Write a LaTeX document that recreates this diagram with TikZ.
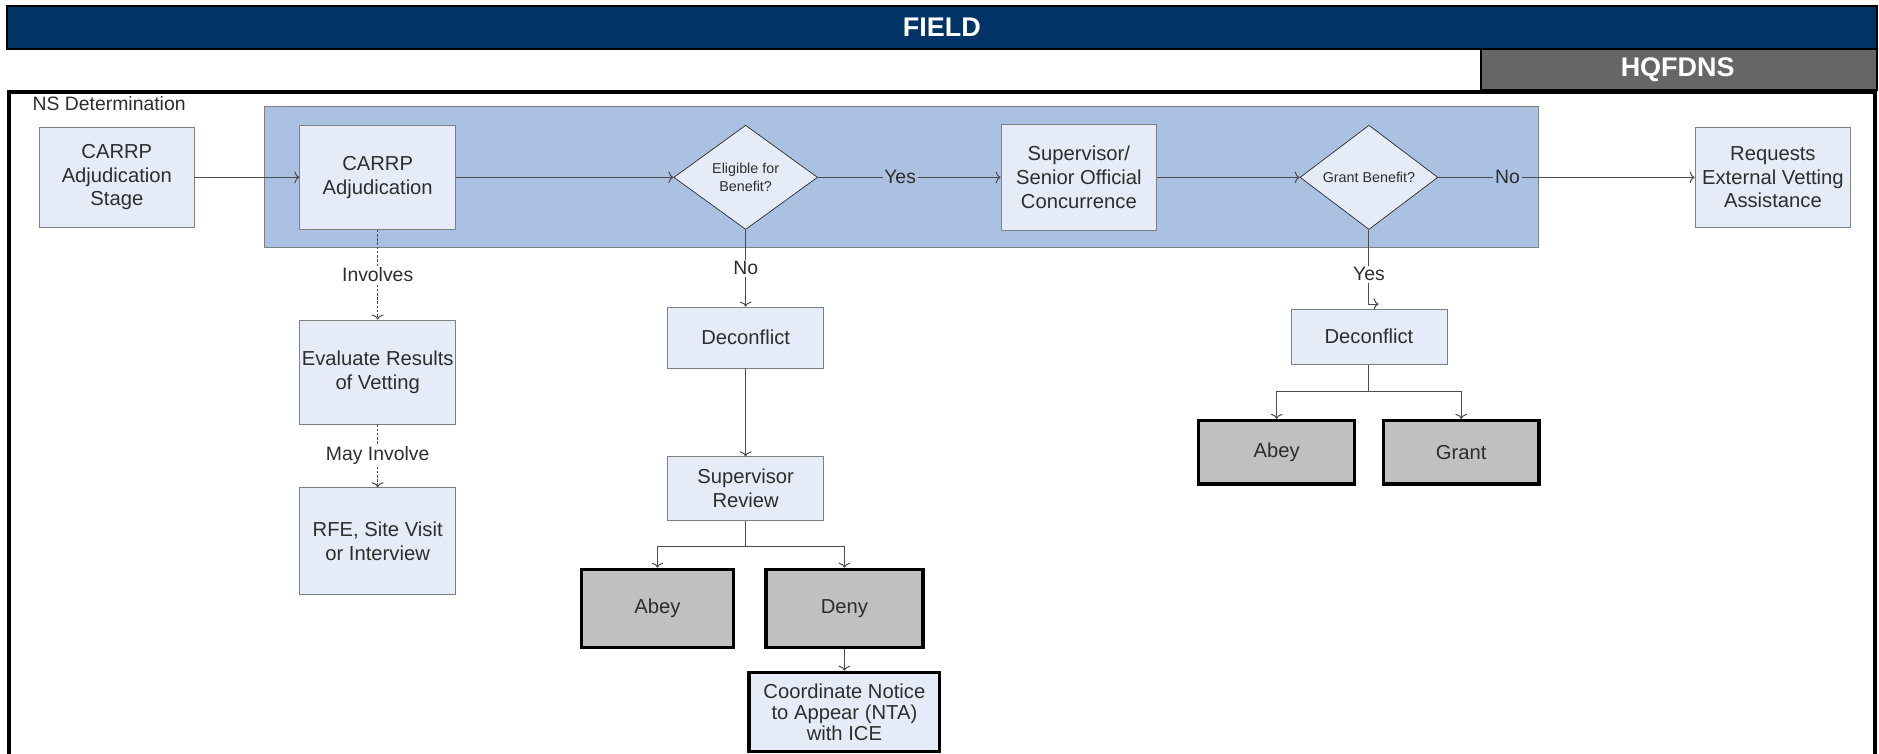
\documentclass[tikz,border=0pt]{standalone}
\usepackage{fontspec}
\setmainfont{Liberation Sans}
\usepackage{tikz}
\usetikzlibrary{arrows.meta,calc,positioning,shapes.geometric}
\definecolor{navy}{RGB}{0,51,102}
\definecolor{hqgray}{RGB}{102,102,102}
\definecolor{band}{RGB}{171,193,226}
\definecolor{boxfill}{RGB}{230,236,247}
\definecolor{endfill}{RGB}{192,192,192}
\definecolor{ink}{RGB}{45,45,45}
\definecolor{rim}{RGB}{128,128,128}
\tikzset{%
	process/.style  = {draw=rim, fill=boxfill, rectangle, inner sep=1pt, minimum width=3.25cm, minimum height=2.175cm, text centered, align=center, text=ink, font=\fontsize{12}{14}\selectfont},
	outcome/.style  = {draw=black, line width=2pt, fill=endfill, rectangle, minimum width=3.25cm, minimum height=1.325cm, text centered, text=ink, font=\fontsize{12}{14}\selectfont},
	decision/.style = {draw=black!85, fill=boxfill, diamond, minimum width=3cm, minimum height=2.175cm, inner sep=0pt, text centered, align=center, text=ink, font=\fontsize{8.5}{10.5}\selectfont},
	arrow/.style    = {draw=ink!85, line width=0.6pt, -{To[length=3pt,width=7pt]}},
	dotarrow/.style = {arrow, dash pattern=on 1.5pt off 1pt},
	lbl/.style      = {fill=white, text=ink, inner sep=1pt, anchor=center, font=\fontsize{11.5}{13}\selectfont},
	bandlbl/.style  = {lbl, fill=band},
}

\begin{document}
\begin{tikzpicture}[x=0.025cm, y=-0.025cm, node distance=5cm]
	\useasboundingbox (0,0) rectangle (1568,629);
	% lane headers
	\draw[fill=navy, line width=1.3pt] (6,5) rectangle (1566,41);
	\node[text=white, font=\fontsize{16}{18}\bfseries] (field) at (786,23) {FIELD};
	\draw[fill=hqgray, line width=1.3pt] (1236,41) rectangle (1566,75);
	\node[text=white, font=\fontsize{16}{18}\bfseries] (hq) at (1400,58) {HQFDNS};
	\draw[line width=2.2pt] (7.5,640) -- (7.5,76.5) -- (1564.5,76.5) -- (1564.5,640);
	\node[anchor=north west, text=ink, inner sep=0pt, font=\fontsize{11.5}{13}\selectfont] (ns) at (27,80) {NS Determination};
	\draw[draw=rim, fill=band] (221,89) rectangle (1284,206);
	
	% main row
	\node [process, minimum width=3.225cm, minimum height=2.1cm] (stage) at (97.5,148) {CARRP\\Adjudication\\Stage};
	\node [process] (adj) [right of=stage, node distance=5.44cm] {CARRP\\Adjudication};
	\node [decision] (elig) [right of=adj, node distance=7.675cm] {Eligible for\\Benefit?};
	\node [process, minimum height=2.2cm] (sup) [right of=elig, node distance=6.95cm] {Supervisor/\\Senior Official\\Concurrence};
	\node [decision, minimum width=2.875cm] (gb) [right of=sup, node distance=6.05cm] {Grant Benefit?};
	\node [process, minimum height=2.1cm] (req) [right of=gb, node distance=8.425cm] {Requests\\External Vetting\\Assistance};
	
	% vetting column
	\node [process] (eval) [below of=adj, node distance=4.06cm] {Evaluate Results\\of Vetting};
	\node [process, minimum height=2.225cm] (rfe) [below of=eval, node distance=3.525cm] {RFE, Site Visit\\or Interview};
	
	% not eligible column
	\node [process, minimum height=1.275cm] (dec1) [below of=elig, node distance=3.34cm] {Deconflict};
	\node [process, minimum height=1.325cm] (rev) [below of=dec1, node distance=3.15cm] {Supervisor\\Review};
	\node [outcome, minimum width=3.175cm, minimum height=1.625cm] (abey1) [below of=rev, node distance=2.5cm, xshift=-1.84cm] {Abey};
	\node [outcome, minimum width=3.275cm, minimum height=1.625cm] (deny) [below of=rev, node distance=2.5cm, xshift=2.06cm] {Deny};
	\node [outcome, fill=boxfill, minimum width=3.975cm, minimum height=1.65cm, align=center, font=\fontsize{12}{12.5}\selectfont] (nta) [below of=deny, node distance=2.16cm] {Coordinate Notice\\to Appear (NTA)\\with ICE};
	
	% grant column
	\node [process, minimum height=1.15cm] (dec2) [below of=gb, node distance=3.325cm] {Deconflict};
	\node [outcome] (abey2) [below of=dec2, node distance=2.41cm, xshift=-1.925cm] {Abey};
	\node [outcome] (grant) [below of=dec2, node distance=2.41cm, xshift=1.925cm] {Grant};
	\coordinate (hook) at ([xshift=0.2cm,yshift=0.1cm]dec2.north);
	
	\draw[arrow] (stage) -- (adj);
	\draw[arrow] (adj) -- (elig);
	\draw[arrow] (elig) -- node[bandlbl, pos=0.45] {Yes} (sup);
	\draw[arrow] (sup) -- (gb);
	\draw[arrow] (gb) -- node[bandlbl, pos=0.27] {No} (req);
	\draw[dotarrow] (adj) -- node[lbl, pos=0.5] {Involves} (eval);
	\draw[dotarrow] (eval) -- node[lbl, pos=0.5] {May Involve} (rfe);
	\draw[arrow] (elig) -- node[lbl, pos=0.5] {No} (dec1);
	\draw[arrow] (dec1) -- (rev);
	\draw[arrow] (rev.south) -- ++(0,22) -| (abey1.north);
	\draw[arrow] (rev.south) -- ++(0,22) -| (deny.north);
	\draw[arrow] (deny) -- (nta);
	\draw[arrow] (gb.south) |- node[lbl, pos=0.3] {Yes} (hook);
	\draw[arrow] (dec2.south) -- ++(0,22) -| (abey2.north);
	\draw[arrow] (dec2.south) -- ++(0,22) -| (grant.north);
\end{tikzpicture}
\end{document}
